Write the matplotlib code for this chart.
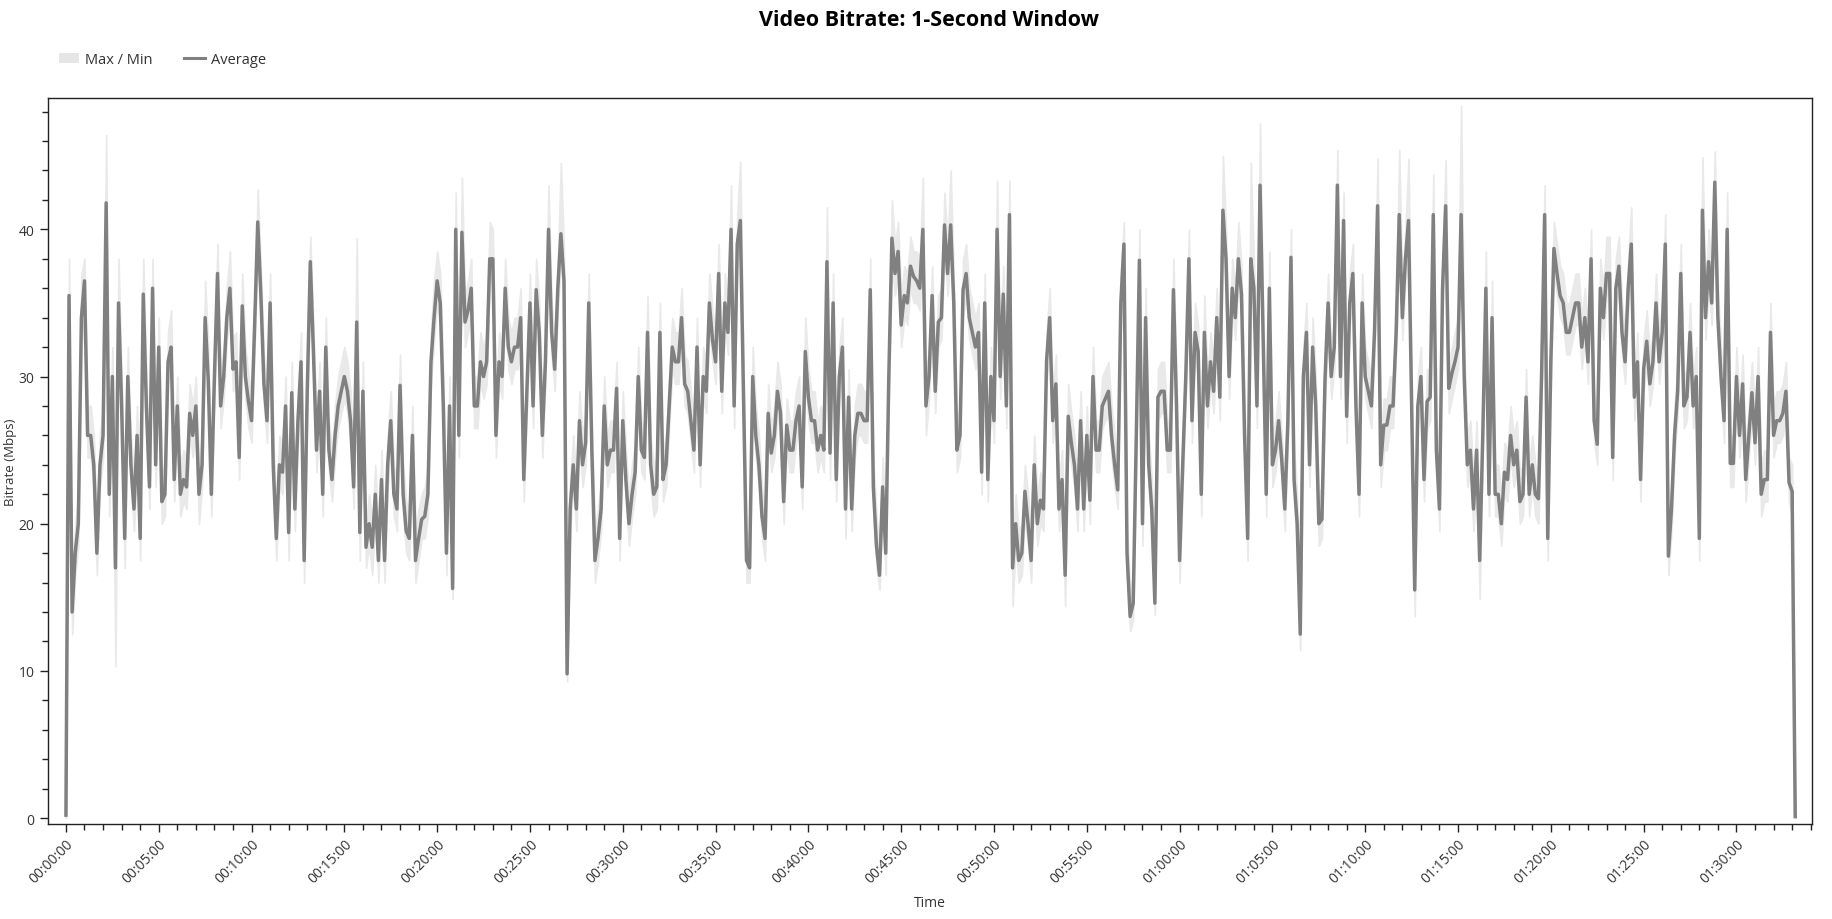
import numpy as np
import matplotlib
matplotlib.use("Agg")
import matplotlib.pyplot as plt
from matplotlib.ticker import MultipleLocator, FuncFormatter
from matplotlib.patches import Patch
from matplotlib.lines import Line2D

plt.rcParams['font.family'] = ['Open Sans', 'DejaVu Sans']

# one sample every 10 seconds, values in Mbps
SAMPLE_SECONDS = 10

avg = [
    0.2, 35.5, 14, 18, 20, 34, 36.5, 26, 26, 24,
    18, 24, 26, 41.8, 22, 30, 17, 35, 28, 19,
    30, 24, 21, 26, 19, 35.6, 28, 22.5, 36, 24,
    32, 21.5, 22, 31, 32, 23, 28, 22, 23, 22.5,
    27.5, 26, 28, 22, 24, 34, 29.8, 22, 30, 37,
    28, 30, 34, 36, 30.5, 31, 24.5, 34.8, 30, 28.3,
    27, 33.5, 40.5, 35.6, 29.5, 27, 35, 24, 19, 24,
    23.5, 28, 19.4, 28.9, 21, 27, 31, 17.5, 29, 37.8,
    31.7, 25, 29, 22, 32, 25, 23, 26, 28, 29,
    30, 29, 27, 22.5, 33.7, 19.4, 29, 18.4, 20, 18.4,
    22, 17.5, 23, 17.5, 24, 27, 22, 21, 29.4, 22,
    19.5, 19, 26, 17.5, 19, 20.3, 20.5, 22, 31, 34,
    36.5, 35, 27.9, 18, 28, 15.6, 40, 26, 39.8, 33.7,
    34.5, 36, 28, 28, 31, 30, 31, 38, 38, 26,
    31, 30, 36, 32, 31, 32, 32, 34, 23, 29,
    35, 28, 35.9, 33, 26, 31, 40, 33, 30.5, 36,
    39.7, 36.5, 9.8, 21, 24, 21, 27, 24, 25.5, 35,
    25, 17.5, 19, 21, 28, 24, 25, 25, 29.2, 19,
    27, 23, 20, 22, 23.5, 30, 25, 24.5, 33, 24,
    22, 22.5, 33, 23, 24, 28, 32, 31, 31, 34,
    29.5, 29, 27, 25, 32, 24, 30, 29, 35, 32.5,
    31, 37, 29, 35, 33, 40, 28, 39, 40.6, 29.2,
    17.5, 17, 30, 26, 24, 20.5, 19, 27.5, 24.8, 26,
    29, 27.5, 21.5, 26.7, 25, 25, 27, 28, 22.5, 31.7,
    28.6, 27, 27, 25, 26, 25, 37.8, 24.8, 35, 23,
    30, 32, 21, 28.6, 21, 26, 27.5, 27.5, 27, 27,
    35.9, 22.5, 18.5, 16.5, 22.5, 18, 30, 39.4, 37, 38.5,
    33.5, 35.5, 35, 37.5, 36.8, 36.5, 36, 40, 28, 30,
    35.5, 29, 33.7, 34, 40.3, 37, 40.3, 35, 25, 26,
    35.9, 37, 34, 33, 32, 33, 23.5, 35, 23, 30,
    27, 40, 30, 35.6, 28, 41, 17, 20, 17.5, 18,
    22.2, 20, 17.5, 24, 20, 21.6, 21, 31.1, 34, 27,
    29.5, 21, 23, 16.5, 27.3, 25.5, 24, 21, 27, 21,
    26, 21.6, 30, 25, 25, 28, 28.5, 29, 26, 24,
    22.3, 35, 39, 18, 13.7, 14.6, 26, 37.9, 20, 34,
    24, 21, 14.6, 28.6, 29, 29, 25, 25, 35.9, 28,
    17.5, 24, 30, 38, 27, 33, 31.7, 22, 33, 28,
    31, 29, 34, 28.6, 41.3, 38, 30, 36, 34, 38,
    35.6, 26, 19, 38, 36, 28, 43, 32.7, 22, 36,
    24, 25, 27, 24.4, 21, 27, 38.1, 23, 20, 12.5,
    30, 33, 24, 32, 28, 20, 20.3, 29.8, 35, 30,
    32, 43, 30, 40.6, 27.3, 35, 37, 28, 22, 35,
    30, 29, 28, 33, 41.6, 24, 26.7, 26.7, 28, 28,
    33, 41, 34, 38, 40.6, 28, 15.5, 28, 30, 23,
    28.3, 28.6, 41, 25, 21, 36, 41.6, 29.2, 30.2, 31,
    32, 41, 30, 24, 25, 21, 25, 17.5, 26, 36,
    22, 34, 22, 22, 20, 23.5, 23, 26, 24, 25,
    21.5, 22, 28.6, 22, 24, 22, 21.7, 30, 41, 19,
    31, 38.7, 37, 35.5, 35, 33, 33, 34, 35, 35,
    32, 34, 31, 38, 27, 25.4, 36, 34, 37, 37,
    24.5, 36, 37.5, 33, 31, 36, 39, 28.6, 31, 23,
    30.5, 32.4, 29.5, 31, 35, 31, 33, 39, 17.8, 21,
    26, 29, 37, 28, 28.6, 33, 28, 30, 19, 41.3,
    34, 37.8, 35, 43.2, 34, 30, 27, 40, 24.1, 24.1,
    30, 26, 29.5, 23, 26, 28.9, 25.5, 30, 22, 23,
    23, 33, 26, 27, 27, 27.5, 29, 22.8, 22.2, 0.1,
]

max_vals = [
    0.3, 38, 16, 20, 22, 37, 38, 28, 28, 26,
    19.5, 26, 28, 46.4, 24, 32, 19, 38, 30, 21,
    32, 26, 23, 28, 21, 38, 30, 24.5, 38, 26,
    34, 23.5, 24, 33, 34.5, 25, 30, 24, 25, 24.5,
    29.5, 28, 30, 24, 26, 36.5, 32, 24, 32, 39,
    30, 32, 36, 38.5, 32.5, 33, 26.5, 37, 32, 30,
    29, 35.5, 42.7, 37.5, 31.5, 29, 37, 26, 21, 26,
    25.5, 30, 21, 31, 23, 29, 33, 19.5, 31, 39.5,
    33.5, 27, 31, 24, 34, 27, 25, 28, 30, 31,
    32, 31, 29, 24.5, 39.4, 21.5, 31, 20, 22, 20,
    24, 19.5, 25, 19.5, 26, 29, 24, 23, 31.5, 24,
    21.5, 21, 28, 19.5, 21, 22, 22.5, 24, 33, 36.5,
    38.5, 37, 30, 20, 30, 17.5, 42.5, 28, 43.5, 35.5,
    36.5, 38, 30, 30, 33, 32, 33, 40.5, 40, 28,
    33, 32, 38, 34, 33, 34, 34, 36, 25, 31,
    37, 30, 38, 35, 28, 33, 43, 35, 32.5, 38,
    44.5, 38.5, 11.5, 23, 26, 23, 29, 26, 27.5, 37,
    27, 19.5, 21, 23, 30, 26, 27, 27, 31, 21,
    29, 25, 22, 24, 25.5, 32, 27, 26.5, 35.5, 26,
    24, 24.5, 35, 25, 26, 30, 34, 33, 33, 36,
    31.5, 31, 29, 27, 34, 26, 32, 31, 37, 34.5,
    33, 39, 31, 37, 35, 43, 30, 41, 44.6, 31,
    19.5, 19, 32, 28, 26, 22.5, 21, 29.5, 26.5, 28,
    31, 29.5, 23.5, 28.5, 27, 27, 29, 30, 24.5, 34,
    30.5, 29, 29, 27, 28, 27, 41.5, 26.5, 37, 25,
    32, 34, 23, 30.5, 23, 28, 29.5, 29.5, 29, 29,
    38, 24.5, 20.5, 18.5, 24.5, 20, 32, 42, 39, 40.5,
    35.5, 37.5, 37, 39.5, 38.5, 38.5, 38, 43.5, 30, 32,
    37.5, 31, 35.5, 36, 42.5, 39, 44, 37, 27, 28,
    38, 39, 36, 35, 34, 35, 25.5, 37, 25, 32,
    29, 43.3, 32, 37.5, 30, 43.3, 19, 22, 19.5, 20,
    24, 22, 19.5, 26, 22, 23.5, 23, 33, 36, 29,
    31.5, 23, 25, 18.5, 29.5, 27.5, 26, 23, 29, 23,
    28, 23.5, 32, 27, 27, 30, 30.5, 31, 28, 26,
    24, 37, 40.5, 20, 15.5, 16.5, 28, 40, 22, 36,
    26, 23, 16.5, 30.5, 31, 31, 27, 27, 38, 30,
    19.5, 26, 32, 40, 29, 35, 33.5, 24, 35.5, 30,
    33, 31, 36, 30.5, 45, 40, 32, 38, 36, 40.5,
    37.5, 28, 21, 44.5, 38, 30, 47.2, 34.5, 24, 38.5,
    26, 27, 29, 26, 23, 29, 40, 25, 22, 14.5,
    32, 35, 26, 34, 30, 22, 22.5, 32, 37, 32,
    34, 45.4, 32, 42.5, 29.5, 37, 39, 30, 24, 37,
    32, 31, 30, 35, 44.8, 26, 28.5, 28.5, 30, 30,
    35, 45.4, 36, 40, 44.8, 30, 17.5, 30, 32, 25,
    30.5, 30.5, 43.7, 27, 23, 38, 44.7, 31, 32, 33,
    34, 48.4, 32, 26, 27, 23, 27, 19.5, 28, 38.5,
    24, 36.5, 24, 24, 22, 25.5, 25, 28, 26, 27,
    23.5, 24, 30.5, 24, 26, 24, 23.5, 32, 43, 21,
    33, 40.5, 39, 37.5, 37, 35, 35, 36, 37, 37,
    34, 36, 33, 40, 29, 27.5, 38, 36, 39.5, 39.5,
    26.5, 38, 39.5, 35, 33, 38, 41.5, 30.5, 33, 25,
    32.5, 34.5, 31.5, 33, 37, 33, 35, 41, 19.5, 23,
    28, 31, 39, 30, 30.5, 35, 30, 32, 21, 44.9,
    36, 40, 37, 45.3, 36, 32, 29, 42.5, 26, 26,
    32, 28, 31.5, 25, 28, 31, 27.5, 32, 24, 25,
    25, 35, 28, 29, 29, 29.5, 31, 24.5, 24, 0.3,
]

min_vals = [
    0, 33, 12.5, 16.5, 18.5, 32, 34.5, 24.5, 24.5, 22.5,
    16.5, 22.5, 24.5, 39.5, 20.5, 28.5, 10.3, 33, 26.5, 17,
    28.5, 22.5, 19.5, 24.5, 17.5, 33.5, 26.5, 21, 34, 22.5,
    30.5, 20, 20.5, 29.5, 30.5, 21.5, 26.5, 20.5, 21.5, 21,
    26, 24.5, 26.5, 20, 22.5, 32.5, 28, 20.5, 28.5, 35,
    26.5, 28.5, 32.5, 34, 29, 29.5, 23, 33, 28.5, 26.5,
    25.5, 32, 38.5, 34, 28, 25.5, 33, 22.5, 17.5, 22.5,
    22, 26.5, 17.5, 27, 19.5, 25.5, 29.5, 16, 27.5, 36,
    30, 23.5, 27.5, 20.5, 30.5, 23.5, 21.5, 24.5, 26.5, 27.5,
    28.5, 27.5, 25.5, 21, 32, 17.5, 27.5, 17, 18.5, 16.5,
    20.5, 16, 21.5, 16, 22.5, 25.5, 20.5, 19.5, 28, 20.5,
    18, 17.5, 24.5, 16, 17.5, 19, 19, 20.5, 29.5, 32.5,
    35, 33.5, 26.5, 16.5, 26.5, 14.9, 38, 24.5, 38, 32,
    33, 34.5, 26.5, 26.5, 29.5, 28.5, 29.5, 36.5, 36.5, 24.5,
    29.5, 28.5, 34.5, 30.5, 29.5, 30.5, 30.5, 32.5, 21.5, 27.5,
    33.5, 26.5, 34, 31.5, 24.5, 29.5, 38.5, 31.5, 29, 34.5,
    38, 35, 9.3, 19.5, 22.5, 19.5, 25.5, 22.5, 24, 33.5,
    23.5, 16, 17.5, 19.5, 26.5, 22.5, 23.5, 23.5, 27.5, 17.5,
    25.5, 21.5, 18.5, 20.5, 22, 28.5, 23.5, 23, 31.5, 22.5,
    20.5, 21, 31.5, 21.5, 22.5, 26.5, 30.5, 29.5, 29.5, 32.5,
    28, 27.5, 25.5, 23.5, 30.5, 22.5, 28.5, 27.5, 33.5, 31,
    29.5, 35.5, 27.5, 33.5, 31.5, 38.5, 26.5, 37.5, 39, 27.5,
    16, 16, 28.5, 24.5, 22.5, 19, 17.5, 26, 23.5, 24.5,
    27.5, 26, 20, 25, 23.5, 23.5, 25.5, 26.5, 21, 30,
    27, 25.5, 25.5, 23.5, 24.5, 23.5, 36, 23, 33.5, 21.5,
    28.5, 30.5, 19, 27, 19.5, 24.5, 26, 26, 25.5, 25.5,
    34, 21, 17, 15.5, 21, 16.5, 28.5, 37.5, 35.5, 37,
    32, 34, 33.5, 36, 35, 35, 34.5, 38.5, 26, 28.5,
    34, 27.5, 32, 32.5, 38.5, 35.5, 38.5, 33.5, 23.5, 24.5,
    34, 35.5, 32.5, 31.5, 30.5, 31.5, 22, 33.5, 21.5, 28.5,
    25.5, 38, 28.5, 34, 26.5, 39, 14.4, 18.5, 16, 16.5,
    20.5, 18.5, 16, 22.5, 18.5, 20, 19.5, 29.5, 32.5, 25.5,
    28, 19.5, 21.5, 14.4, 25.5, 24, 22.5, 19.5, 25.5, 19.5,
    24.5, 20, 28.5, 23.5, 23.5, 26.5, 27, 27.5, 24.5, 22.5,
    21, 33.5, 37.5, 16.5, 12.7, 13.5, 24.5, 36, 18.5, 32.5,
    22.5, 19.5, 13.8, 27, 27.5, 27.5, 23.5, 23.5, 34, 26.5,
    16, 22.5, 28.5, 36.5, 25.5, 31.5, 30, 20.5, 31.5, 26.5,
    29.5, 27.5, 32.5, 27, 39.5, 36.5, 28.5, 34.5, 32.5, 36.5,
    34, 24.5, 17.5, 36, 34.5, 26.5, 41, 31, 20.5, 34.5,
    22.5, 23.5, 25.5, 23, 19.5, 25.5, 36.5, 21.5, 18.5, 11.4,
    28.5, 31.5, 22.5, 30.5, 26.5, 18.5, 19, 28, 33.5, 28.5,
    30.5, 41, 28.5, 39, 25.5, 33.5, 35.5, 26.5, 20.5, 33.5,
    28.5, 27.5, 26.5, 31.5, 40, 22.5, 25, 25, 26.5, 26.5,
    31.5, 39, 32.5, 36.5, 39, 26.5, 13.7, 26.5, 28.5, 21.5,
    26.5, 27, 39, 23.5, 19.5, 34.5, 40, 27.5, 28.5, 29.5,
    30.5, 39, 28.5, 22.5, 23.5, 19.5, 23.5, 14.9, 24.5, 34,
    20.5, 32.5, 20.5, 20.5, 18.5, 22, 21.5, 24.5, 22.5, 23.5,
    20, 20.5, 27, 20.5, 22.5, 20.5, 20, 28.5, 39, 17.5,
    29.5, 37, 35.5, 34, 33.5, 31.5, 31.5, 32.5, 33.5, 33.5,
    30.5, 32.5, 29.5, 36.5, 25.5, 24, 34.5, 32.5, 35.5, 35.5,
    23, 34.5, 36, 31.5, 29.5, 34.5, 37.5, 27, 29.5, 21.5,
    29, 31, 28, 29.5, 33.5, 29.5, 31.5, 37.5, 16.5, 19.5,
    24.5, 27.5, 35.5, 26.5, 27, 31.5, 26.5, 28.5, 17.5, 39.5,
    32.5, 36, 33.5, 41.5, 32.5, 28.5, 25.5, 38.5, 22.5, 22.5,
    28.5, 24.5, 28, 21.5, 24.5, 27.5, 24, 28.5, 20.5, 21.5,
    21.5, 31.5, 24.5, 25.5, 25.5, 26, 27.5, 21.5, 20.5, 0,
]

title = "Video Bitrate: 1-Second Window"
line_color = "#808080"
band_color = "#e9e9e9"
text_color = "#333333"

t = np.arange(len(avg)) * SAMPLE_SECONDS


def hms(x, pos):
    s = int(round(x))
    return "%02d:%02d:%02d" % (s // 3600, (s % 3600) // 60, s % 60)


fig = plt.figure(figsize=(18.33, 9.2), dpi=100)
ax = fig.add_axes([0.02635, 0.1033, 0.96215, 0.7887])

# light band behind, thick average line on top
ax.fill_between(t, min_vals, max_vals, color=band_color, linewidth=1.2,
                edgecolor=band_color, zorder=1)
ax.plot(t, avg, color=line_color, linewidth=2.5, zorder=2)

ax.set_xlim(-57, 5644)
ax.set_ylim(-0.4, 48.9)

ax.xaxis.set_major_locator(MultipleLocator(300))
ax.xaxis.set_minor_locator(MultipleLocator(60))
ax.xaxis.set_major_formatter(FuncFormatter(hms))
ax.yaxis.set_major_locator(MultipleLocator(10))
ax.yaxis.set_minor_locator(MultipleLocator(2))

ax.tick_params(axis='both', which='major', length=6, width=1, color='#222222',
               labelsize=10, labelcolor=text_color)
ax.tick_params(axis='both', which='minor', length=4, width=1, color='#222222')
ax.tick_params(axis='y', which='major', pad=4)
ax.tick_params(axis='x', which='major', pad=3)
plt.setp(ax.get_xticklabels(), rotation=45, ha='right', rotation_mode='anchor')

for side in ['left', 'bottom', 'top', 'right']:
    ax.spines[side].set_color('#222222')
    ax.spines[side].set_linewidth(1)

fig.text(0.507, 0.978, title, ha='center', va='center',
         fontsize=15.5, fontweight='bold', color='black')
fig.text(0.0057, 0.498, "Bitrate (Mbps)", rotation=90, ha='center', va='center',
         fontsize=9.5, color=text_color)
fig.text(0.507, 0.0174, "Time", ha='center', va='center',
         fontsize=10, color=text_color)

handles = [Patch(facecolor='#e6e6e6', edgecolor='none'),
           Line2D([0], [0], color=line_color, linewidth=2.2)]
fig.legend(handles, ["Max / Min", "Average"], loc='center left',
           bbox_to_anchor=(0.032, 0.934), ncol=2, frameon=False,
           handlelength=1.4, handletextpad=0.4, columnspacing=2.2,
           fontsize=10.5, borderaxespad=0, borderpad=0, labelcolor=text_color)

fig.savefig("out.png", dpi=100)
